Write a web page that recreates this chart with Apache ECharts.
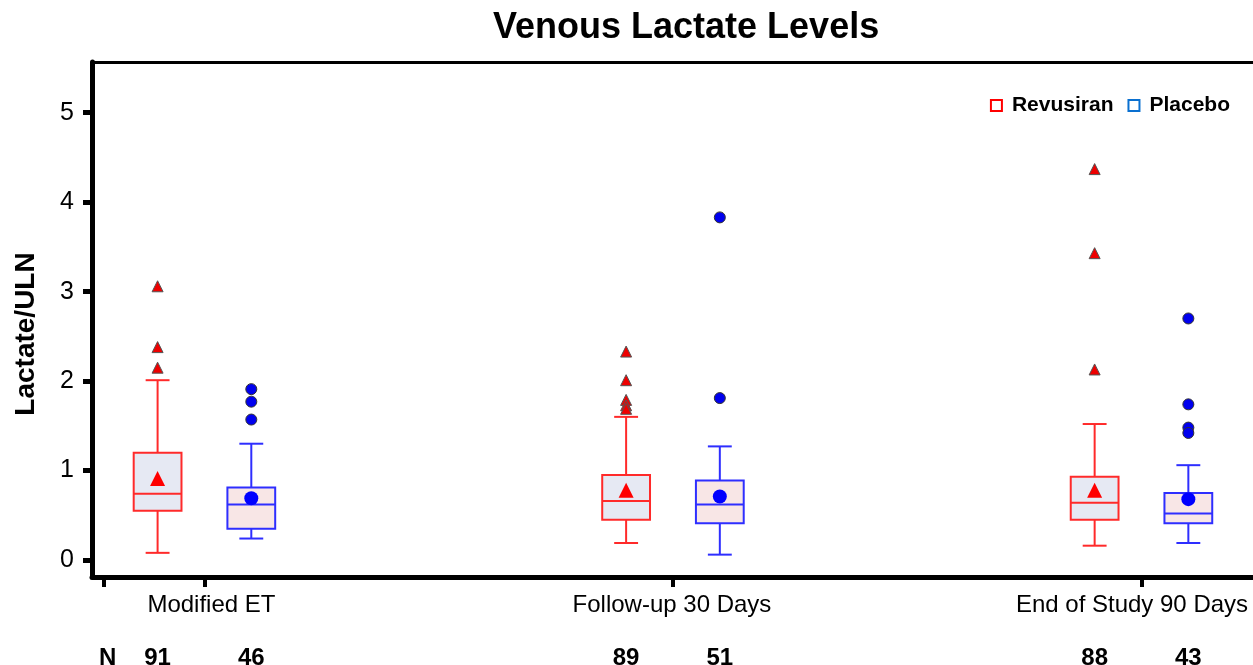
<!DOCTYPE html>
<html><head><meta charset="utf-8">
<script src="https://cdn.jsdelivr.net/npm/echarts@6/dist/echarts.min.js"></script>
<style>html,body{margin:0;padding:0;background:#fff}#c{width:1253px;height:665px}</style>
</head><body><div id="c"></div>
<script>
// ---- data ----
const categories = ['Modified ET', 'Follow-up 30 Days', 'End of Study 90 Days'];
const treatments = ['Revusiran', 'Placebo'];
// [low whisker, Q1, median, Q3, high whisker]
const revusiranBox = [[0.08, 0.55, 0.74, 1.20, 2.01], [0.19, 0.45, 0.66, 0.95, 1.60], [0.16, 0.45, 0.64, 0.93, 1.52]];
const placeboBox = [[0.24, 0.35, 0.62, 0.81, 1.30], [0.06, 0.41, 0.62, 0.89, 1.27], [0.19, 0.41, 0.52, 0.75, 1.06]];
const revusiranMean = [0.91, 0.78, 0.78];
const placeboMean = [0.69, 0.71, 0.68];
const revusiranOutliers = [[3.06, 2.38, 2.15], [2.33, 2.01, 1.79, 1.73, 1.69], [4.37, 3.43, 2.13]];
const placeboOutliers = [[1.91, 1.77, 1.57], [3.83, 1.81], [2.70, 1.74, 1.48, 1.42]];
const nRevusiran = [91, 89, 88];
const nPlacebo = [46, 51, 43];
const yTicks = [0, 1, 2, 3, 4, 5];
const xTickPositions = [0.785, 1, 2, 3];

// ---- layout/style constants ----
const FONT = '"Liberation Sans", Arial, sans-serif';
const OFFSET = 0.1;       // group offset in axis units
const BOX_W = 0.102;      // box width in axis units
const X_MIN = 0.76, X_MAX = 3.238;
const RED = '#ff2a2a', RED_FILL = '#e6e9f3';
const BLUE = '#2e2eff', BLUE_FILL = '#f8e6e6';

const pos = (i, t) => (i + 1) + (t === 0 ? -OFFSET : OFFSET);

function boxRender(color, fill) {
  return function (params, api) {
    const x = api.value(0);
    const pts = [1, 2, 3, 4, 5].map(i => api.coord([x, api.value(i)]));
    const cx = pts[0][0];
    const w = api.size([BOX_W, 0])[0];
    const cap = w / 2;
    const ls = { stroke: color, lineWidth: 2 };
    return {
      type: 'group', children: [
        { type: 'line', shape: { x1: cx, y1: pts[0][1], x2: cx, y2: pts[1][1] }, style: ls },
        { type: 'line', shape: { x1: cx, y1: pts[3][1], x2: cx, y2: pts[4][1] }, style: ls },
        { type: 'line', shape: { x1: cx - cap / 2, y1: pts[0][1], x2: cx + cap / 2, y2: pts[0][1] }, style: ls },
        { type: 'line', shape: { x1: cx - cap / 2, y1: pts[4][1], x2: cx + cap / 2, y2: pts[4][1] }, style: ls },
        { type: 'rect', shape: { x: cx - w / 2, y: pts[3][1], width: w, height: pts[1][1] - pts[3][1] }, style: { fill: fill, stroke: color, lineWidth: 2 } },
        { type: 'line', shape: { x1: cx - w / 2, y1: pts[2][1], x2: cx + w / 2, y2: pts[2][1] }, style: ls }
      ]
    };
  };
}

function nRender(params, api) {
  const p = api.coord([api.value(0), 0]);
  const cs = params.coordSys;
  return {
    type: 'text', x: p[0], y: cs.y + cs.height + 69,
    style: { text: String(api.value(1)), fill: '#000', align: 'center', verticalAlign: 'top',
      font: 'bold 24px ' + FONT }
  };
}

const boxData = (arr, t) => arr.map((b, i) => [pos(i, t)].concat(b));
const meanData = (arr, t) => arr.map((m, i) => [pos(i, t), m]);
const outData = (arr, t) => arr.flatMap((list, i) => list.map(v => [pos(i, t), v]));
const nData = [].concat(nRevusiran.map((n, i) => [pos(i, 0), n]), nPlacebo.map((n, i) => [pos(i, 1), n]));

const chart = echarts.init(document.getElementById('c'), null, { renderer: 'canvas' });
chart.setOption({
  animation: false,
  backgroundColor: '#fff',
  title: {
    text: 'Venous Lactate Levels', left: 488, top: 5,
    textStyle: { fontFamily: FONT, fontSize: 36, fontWeight: 'bold', color: '#000' }
  },
  legend: {
    right: 18, top: 90, icon: 'rect', itemWidth: 11, itemHeight: 11, itemGap: 14,
    textStyle: { fontFamily: FONT, fontSize: 21, fontWeight: 'bold', color: '#000', padding: [0, 0, 0, 5] },
    data: [
      { name: 'Revusiran', itemStyle: { color: 'transparent', borderColor: '#ff0000', borderWidth: 2 } },
      { name: 'Placebo', itemStyle: { color: 'transparent', borderColor: '#0a70d0', borderWidth: 2 } }
    ]
  },
  grid: { left: 92, right: 0, top: 62, bottom: 88 },
  xAxis: [{
    type: 'value', min: X_MIN, max: X_MAX,
    splitLine: { show: false },
    axisLine: { onZero: false, lineStyle: { color: '#000', width: 5 } },
    axisTick: { customValues: xTickPositions, length: 10, lineStyle: { color: '#000', width: 4 } },
    axisLabel: {
      customValues: [1, 2, 3], margin: 16,
      formatter: v => { const i = Math.round(v) - 1; return '{s' + i + '|' + categories[i] + '}'; },
      rich: {
        s0: { fontFamily: FONT, fontSize: 24, color: '#000', padding: [0, 0, 0, 14] },
        s1: { fontFamily: FONT, fontSize: 24, color: '#000', padding: [0, 2, 0, 0] },
        s2: { fontFamily: FONT, fontSize: 24, color: '#000', padding: [0, 19, 0, 0] }
      }
    }
  }, {
    type: 'value', position: 'top', min: X_MIN, max: X_MAX,
    splitLine: { show: false },
    axisLine: { show: true, onZero: false, lineStyle: { color: '#000', width: 3 } },
    axisTick: { show: false }, axisLabel: { show: false }
  }],
  yAxis: {
    type: 'value', min: -0.19, max: 5.567,
    splitLine: { show: false },
    axisLine: { show: true, onZero: false, lineStyle: { color: '#000', width: 5 } },
    axisTick: { show: true, customValues: yTicks, length: 9, lineStyle: { color: '#000', width: 5 } },
    axisLabel: { customValues: yTicks, margin: 18, fontFamily: FONT, fontSize: 25, color: '#000' }
  },
  graphic: [
    { type: 'text', x: 26, y: 334, rotation: Math.PI / 2,
      style: { text: 'Lactate/ULN', align: 'center', verticalAlign: 'middle', fill: '#000', font: 'bold 28px ' + FONT } },
    { type: 'text', left: 99, top: 646,
      style: { text: 'N', fill: '#000', font: 'bold 24px ' + FONT } }
  ],
  series: [
    { name: 'Revusiran', type: 'custom', renderItem: boxRender(RED, RED_FILL), data: boxData(revusiranBox, 0),
      itemStyle: { color: RED }, encode: { x: 0, y: [1, 2, 3, 4, 5] }, z: 2 },
    { name: 'Placebo', type: 'custom', renderItem: boxRender(BLUE, BLUE_FILL), data: boxData(placeboBox, 1),
      itemStyle: { color: BLUE }, encode: { x: 0, y: [1, 2, 3, 4, 5] }, z: 2 },
    { name: 'Revusiran mean', type: 'scatter', symbol: 'triangle', symbolSize: 15, data: meanData(revusiranMean, 0),
      itemStyle: { color: '#ff0000', opacity: 1 }, z: 4 },
    { name: 'Placebo mean', type: 'scatter', symbol: 'circle', symbolSize: 14, data: meanData(placeboMean, 1),
      itemStyle: { color: '#0000ff', opacity: 1 }, z: 4 },
    { name: 'Revusiran outliers', type: 'scatter', symbol: 'triangle', symbolSize: 11, data: outData(revusiranOutliers, 0),
      itemStyle: { color: '#ee0000', borderColor: '#555', borderWidth: 1, opacity: 1 }, z: 4 },
    { name: 'Placebo outliers', type: 'scatter', symbol: 'circle', symbolSize: 11, data: outData(placeboOutliers, 1),
      itemStyle: { color: '#0000ee', borderColor: '#333', borderWidth: 1, opacity: 1 }, z: 4 },
    { name: 'N', type: 'custom', renderItem: nRender, data: nData, clip: false, encode: { x: 0, y: 1 }, silent: true }
  ]
});
</script>
</body></html>
